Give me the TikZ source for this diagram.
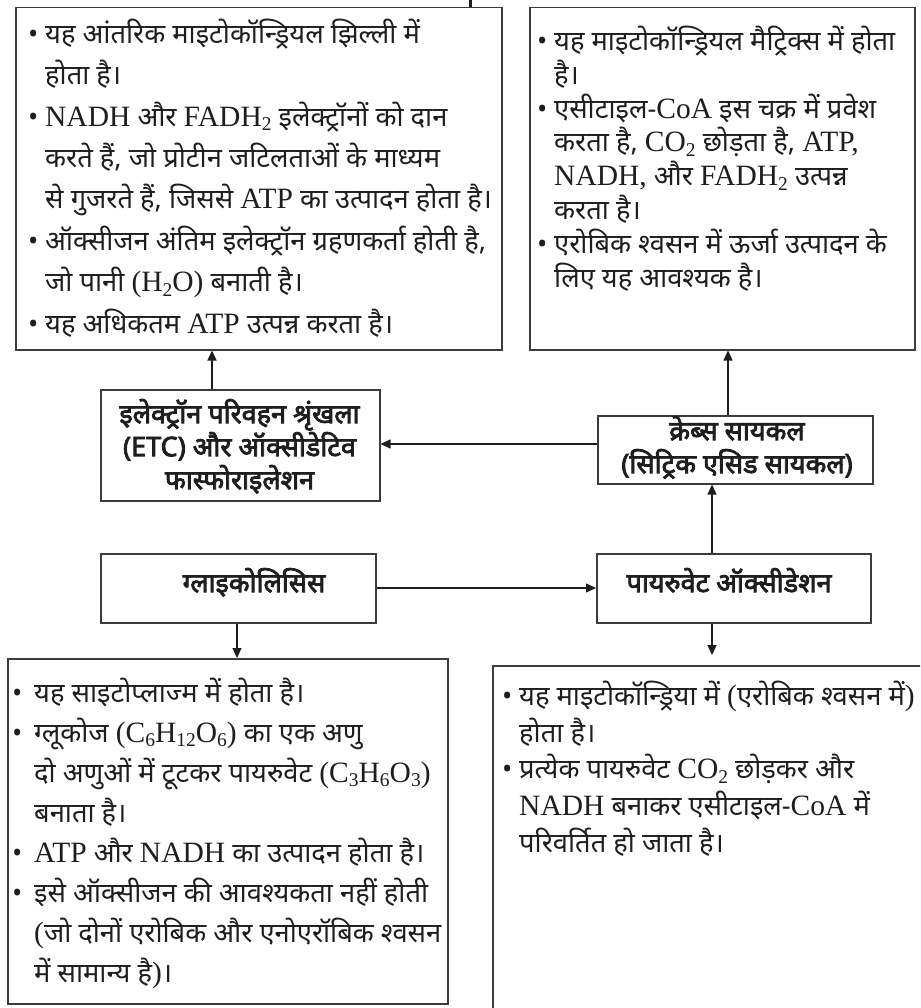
\documentclass[tikz,border=0pt]{standalone}
\usepackage{fontspec}
\setmainfont[Script=Devanagari]{Noto Sans}
\newfontfamily\latf{Liberation Serif}
\newfontfamily\headf[Script=Devanagari,FakeBold=3]{Noto Sans}
\usetikzlibrary{arrows.meta,calc}
\definecolor{boxgray}{HTML}{3C3C3C}
\definecolor{inkc}{HTML}{1E1E1E}
\newcommand\lt[1]{{\latf\fontsize{29.5}{30}\selectfont #1}}
\newcommand\sbt[1]{\raisebox{-0.33ex}{\fontsize{19.5}{19.5}\selectfont #1}}
\newcommand\bl{\makebox[17pt][l]{\textbullet}}
\newcommand\ind{\hspace*{17pt}}
\newcommand\blw{\makebox[22pt][l]{\textbullet}}
\newcommand\indw{\hspace*{22pt}}
\newcommand\fst{\rule{0pt}{30pt}}
\tikzset{
  box/.style={draw=boxgray, line width=1.5pt, inner sep=0pt, anchor=north west},
  txt/.style={anchor=north west, inner sep=0pt, align=left, text=inkc},
  head/.style={anchor=north, inner sep=0pt, align=center, text=inkc,
    font=\headf\fontsize{27}{33}\selectfont},
  arr/.style={draw=inkc, line width=1.2pt, -{Triangle[length=10pt,width=9pt]}}
}
\begin{document}
\begin{tikzpicture}[x=1pt,y=-1pt]
\clip (0,0) rectangle (920,1008);
\fill[white] (0,0) rectangle (920,1008);
% boxes
\node[box, minimum width=486pt, minimum height=342pt] (tl) at (15,7) {};
\node[box, minimum width=385pt, minimum height=342pt] (tr) at (529,7) {};
\node[box, minimum width=279pt, minimum height=111pt] (etc) at (100,389) {};
\node[box, minimum width=275pt, minimum height=68pt] (krebs) at (597,415) {};
\node[box, minimum width=275pt, minimum height=69pt] (gly) at (100,553) {};
\node[box, minimum width=274pt, minimum height=69pt] (pyr) at (596,553) {};
\node[box, minimum width=440pt, minimum height=345pt] (bl) at (7,658) {};
\node[box, minimum width=460pt, minimum height=380pt] (br) at (492,665) {};
% top stub
\coordinate (stub) at (470,0);
\draw[line width=3pt, inkc] (stub) -- (stub |- tl.north);
% headings
\node[head] (etct) at (239.5,393) {\fst इलेक्ट्रॉन परिवहन श्रृंखला\\(ETC) और ऑक्सीडेटिव\\फास्फोराइलेशन};
\node[head] (krebst) at (737,410) {\fst क्रेब्स सायकल\\(सिट्रिक एसिड सायकल)};
\node[head] (glyt) at (254,562) {\fst ग्लाइकोलिसिस};
\node[head] (pyrt) at (729,562) {\fst पायरुवेट ऑक्सीडेशन};
% body texts
\node[txt, font=\fontsize{27.3}{41.4}\selectfont] (tlt) at (28,13) {%
\fst\bl यह आंतरिक माइटोकॉन्ड्रियल झिल्ली में\\
\ind होता है।\\
\bl \lt{NADH} और \lt{FADH\sbt{2}} इलेक्ट्रॉनों को दान\\
\ind करते हैं, जो प्रोटीन जटिलताओं के माध्यम\\
\ind से गुजरते हैं, जिससे \lt{ATP} का उत्पादन होता है।\\
\bl ऑक्सीजन अंतिम इलेक्ट्रॉन ग्रहणकर्ता होती है,\\
\ind जो पानी \lt{(H\sbt{2}O)} बनाती है।\\
\bl यह अधिकतम \lt{ATP} उत्पन्न करता है।};
\node[txt, font=\fontsize{27.3}{33.9}\selectfont] (trt) at (537,20) {%
\fst\bl यह माइटोकॉन्ड्रियल मैट्रिक्स में होता\\
\ind है।\\
\bl एसीटाइल-\lt{CoA} इस चक्र में प्रवेश\\
\ind करता है, \lt{CO\sbt{2}} छोड़ता है, \lt{ATP,}\\
\ind \lt{NADH,} और \lt{FADH\sbt{2}} उत्पन्न\\
\ind करता है।\\
\bl एरोबिक श्वसन में ऊर्जा उत्पादन के\\
\ind लिए यह आवश्यक है।};
\node[txt, font=\fontsize{27.3}{40.1}\selectfont] (blt) at (12,672) {%
\fst\blw यह साइटोप्लाज्म में होता है।\\
\blw ग्लूकोज \lt{(C\sbt{6}H\sbt{12}O\sbt{6})} का एक अणु\\
\indw दो अणुओं में टूटकर पायरुवेट \lt{(C\sbt{3}H\sbt{6}O\sbt{3})}\\
\indw बनाता है।\\
\blw \lt{ATP} और \lt{NADH} का उत्पादन होता है।\\
\blw इसे ऑक्सीजन की आवश्यकता नहीं होती\\
\indw \lt{(}जो दोनों एरोबिक और एनोएरॉबिक श्वसन\\
\indw में सामान्य है\lt{)}।};
\node[txt, font=\fontsize{27.3}{36.8}\selectfont] (brt) at (502,675) {%
\fst\bl यह माइटोकॉन्ड्रिया में \lt{(}एरोबिक श्वसन में\lt{)}\\
\ind होता है।\\
\bl प्रत्येक पायरुवेट \lt{CO\sbt{2}} छोड़कर और\\
\ind \lt{NADH} बनाकर एसीटाइल-\lt{CoA} में\\
\ind परिवर्तित हो जाता है।};
% connectors
\coordinate (a1) at (212,0);
\draw[arr] (a1 |- etc.north) -- (a1 |- tl.south);
\coordinate (a2) at (728,0);
\draw[arr] (a2 |- krebs.north) -- (a2 |- tr.south);
\coordinate (a3) at (0,444);
\draw[arr] (a3 -| krebs.west) -- (a3 -| etc.east);
\coordinate (a4) at (712,0);
\draw[arr] (a4 |- pyr.north) -- (a4 |- krebs.south);
\coordinate (a5) at (0,588);
\draw[arr] (a5 -| gly.east) -- (a5 -| pyr.west);
\coordinate (a6) at (237,0);
\draw[arr] (a6 |- gly.south) -- (a6 |- bl.north);
\coordinate (a7) at (712,655);
\draw[arr] (a4 |- pyr.south) -- (a7);
\end{tikzpicture}
\end{document}
